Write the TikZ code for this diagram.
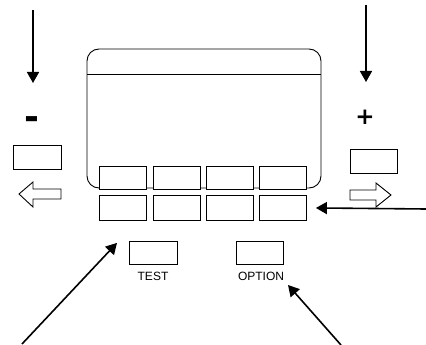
\documentclass[tikz,border=0pt]{standalone}
\usepackage{fontspec}
\setmainfont{Liberation Sans}
\newfontfamily\signfont{DejaVu Sans}
\usetikzlibrary{arrows.meta}
\begin{document}
\begin{tikzpicture}[x=1pt,y=-1pt,
  btn/.style={draw,line width=0.9pt,fill=white,minimum width=47pt,minimum height=23pt,inner sep=0pt,anchor=north west},
  pointer/.style={line width=1.6pt,-{Triangle[length=11pt,width=12pt]}},
  hollow/.style={draw,line width=0.9pt,fill=white},
  sign/.style={inner sep=0pt},
  lbl/.style={font=\fontsize{12}{13}\selectfont,inner sep=0pt}]
\useasboundingbox (0,0) rectangle (426,345);
% screen
\draw[line width=0.9pt,rounded corners=12pt] (87,49) rectangle (321,188);
\draw[line width=0.9pt] (87,74) -- (321,74);
% button rows
\node[btn] (b11) at (99,166) {};
\node[btn] (b12) at (153,166) {};
\node[btn] (b13) at (206,166) {};
\node[btn] (b14) at (259,166) {};
\node[btn,minimum height=25pt] (b21) at (99,195) {};
\node[btn,minimum height=25pt] (b22) at (153,195) {};
\node[btn,minimum height=25pt] (b23) at (206,195) {};
\node[btn,minimum height=25pt] (b24) at (259,195) {};
% side buttons
\node[btn,minimum width=48pt,minimum height=24pt] (minusbtn) at (13,145) {};
\node[btn,minimum width=47pt,minimum height=24pt] (plusbtn) at (350,149) {};
\node[sign,font=\signfont\bfseries\fontsize{36}{36}\selectfont] (minus) at (32,123) {-};
\node[sign,font=\signfont\bfseries\fontsize{23}{23}\selectfont] (plus) at (365,117.5) {+};
% hollow arrows
\draw[hollow] (19,194) -- (33,182) -- (33,189) -- (61,189) -- (61,199) -- (33,199) -- (33,207) -- cycle;
\draw[hollow] (391,195) -- (376,183) -- (376,190) -- (350,190) -- (350,200) -- (376,200) -- (376,207) -- cycle;
% bottom buttons
\node[btn,minimum width=48pt,minimum height=23pt] (test) at (129,241) {};
\node[btn,minimum width=47pt,minimum height=23pt] (option) at (236,241) {};
\node[lbl] (testlbl) at (153,276) {TEST};
\node[lbl] (optlbl) at (261,276) {OPTION};
% pointers
\coordinate (lstart) at (33,10);
\coordinate (lend) at (33,83);
\coordinate (rstart) at (366,5);
\coordinate (rend) at (366,82);
\coordinate (estart) at (426,209);
\coordinate (tstart) at (22,344);
\coordinate (ostart) at (341,345);
\coordinate (otip) at (288,285);
\draw[pointer] (lstart) -- (lend);
\draw[pointer] (rstart) -- (rend);
\draw[pointer] (estart) -- ([xshift=9pt]b24.east);
\draw[pointer] (tstart) -- ([shift={(-12pt,22pt)}]test.south west);
\draw[pointer] (ostart) -- (otip);
\end{tikzpicture}
\end{document}
